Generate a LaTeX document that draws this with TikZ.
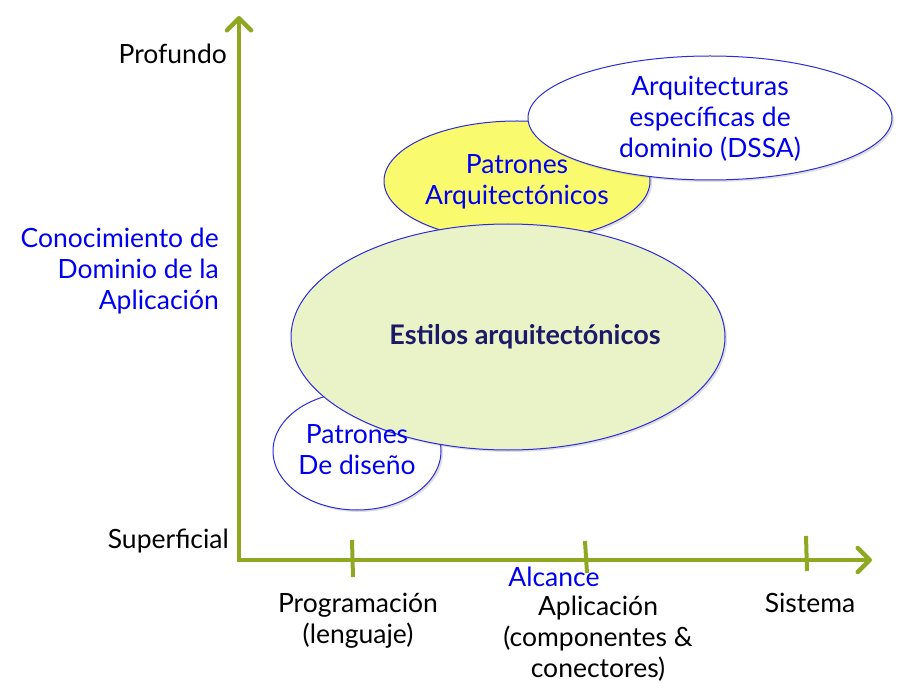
\documentclass[tikz,border=0pt]{standalone}
\usepackage{fontspec}
\setmainfont{Lato}
\usetikzlibrary{arrows.meta,shadows}
\definecolor{axisgreen}{HTML}{8FA822}
\definecolor{ellblue}{HTML}{2B2BD9}
\definecolor{txtblue}{HTML}{0000F0}
\definecolor{estfill}{HTML}{EAF2C8}
\definecolor{patfill}{HTML}{FAFA6E}
\definecolor{navy}{HTML}{1A1A66}
\begin{document}
\begin{tikzpicture}[x=1pt,y=-1pt,
  axis/.style={draw=axisgreen,line width=4.5pt,line join=miter,
    {Straight Barb[length=12pt,width=24pt,line width=4.5pt,round]}-{Straight Barb[length=12pt,width=24pt,line width=4.5pt,round]}},
  tickmark/.style={draw=axisgreen,line width=4pt},
  ell/.style={draw=ellblue,line width=1pt,
    drop shadow={shadow xshift=2pt,shadow yshift=-2pt,opacity=0.25}},
  lbl/.style={font=\fontsize{26.5}{31}\selectfont,align=center,inner sep=0pt},
  blbl/.style={lbl,text=txtblue}]
\useasboundingbox (0,0) rectangle (920,692);
% ellipses
\path[ell,fill=patfill] (517,181) ellipse [x radius=133,y radius=60];
\path[ell,fill=white] (710,118) ellipse [x radius=182,y radius=62];
\path[ell,fill=white] (357,451) ellipse [x radius=84,y radius=59];
\path[ell,fill=estfill] (508,337) ellipse [x radius=217,y radius=113];
% texts in ellipses
\node[blbl] (pa) at (517,182) {Patrones\\Arquitectónicos};
\node[blbl] (dssa) at (710,119) {Arquitecturas\\específicas de\\dominio (DSSA)};
\node[blbl] (pd) at (357,450) {Patrones\\De diseño};
\node[lbl,text=navy,font=\fontsize{27}{31}\selectfont\bfseries] (est) at (525,337) {Estilos arquitectónicos};
% axes
\coordinate (o) at (239,560);
\coordinate (ytip) at (239,16);
\coordinate (xtip) at (872,560);
\draw[axis] (ytip) -- (o) -- (xtip);
\draw[tickmark] (352,540) -- (353,577);
\draw[tickmark] (585,541) -- (587,573);
\draw[tickmark] (806,536) -- (807,571);
% axis labels
\node[lbl,anchor=east] (prof) at (227,54) {Profundo};
\node[lbl,anchor=east] (sup) at (229,541) {Superficial};
\node[blbl,anchor=east,align=right] (con) at (219,271) {Conocimiento de\\Dominio de la\\Aplicación};
\node[lbl] (prog) at (358,621) {Programación\\(lenguaje)};
\node[blbl] (alc) at (554,577) {Alcance};
\node[lbl] (apl) at (598,639) {Aplicación\\(componentes \&\\conectores)};
\node[lbl] (sis) at (810,603) {Sistema};
\end{tikzpicture}
\end{document}
